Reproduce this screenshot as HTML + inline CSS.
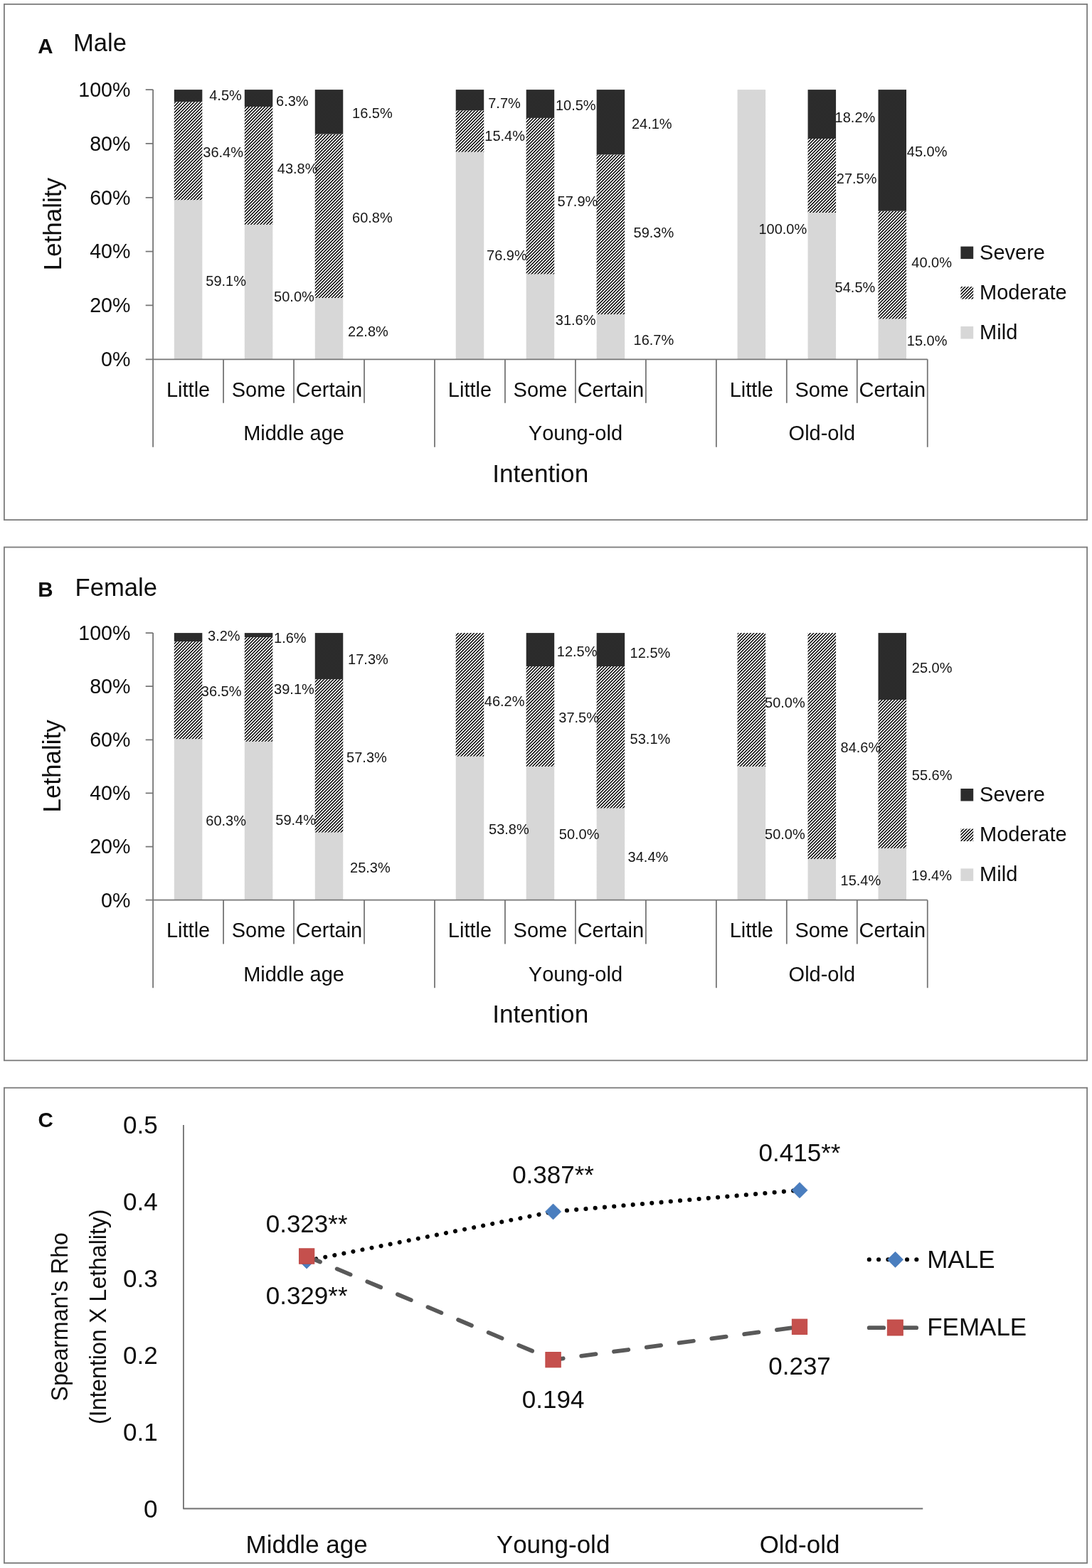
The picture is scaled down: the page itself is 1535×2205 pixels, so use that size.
<!DOCTYPE html>
<html lang="en"><head><meta charset="utf-8"><title>Intention and lethality by age group and sex</title>
<style>html,body{margin:0;padding:0;background:#fff}svg{display:block}text{font-family:"Liberation Sans", Arial, Helvetica, sans-serif;fill:#0d0d0d;font-kerning:none}.t29{font-size:29px}.tk{font-size:28.6px}.t35{font-size:35px}.t345{font-size:34.6px}.t355{font-size:35.2px}.t20{font-size:20px;fill:#151515}.t32{font-size:32px}.b{font-weight:bold;font-size:29.5px}.ax{stroke:#767676;stroke-width:1.8;fill:none}.bx{stroke:#7c7c7c;stroke-width:1.8;fill:none}</style></head><body>
<svg width="1535" height="2205" viewBox="0 0 1535 2205">
<defs><pattern id="hat" width="3.125" height="3.125" patternUnits="userSpaceOnUse" patternTransform="rotate(45)"><rect x="0" y="0" width="1.5" height="3.125" fill="#080808"/></pattern><pattern id="mild" width="2" height="2" patternUnits="userSpaceOnUse"><rect width="2" height="2" fill="#dcdcdc"/><rect width="1" height="1" fill="#d2d2d2"/><rect x="1" y="1" width="1" height="1" fill="#d2d2d2"/></pattern><pattern id="sev" width="2" height="2" patternUnits="userSpaceOnUse"><rect width="2" height="2" fill="#272727"/><rect width="1" height="1" fill="#303030"/><rect x="1" y="1" width="1" height="1" fill="#303030"/></pattern></defs>
<rect width="1535" height="2205" fill="#fff"/>
<rect class="bx" x="5.9" y="5.9" width="1522.2" height="725.2"/>
<rect class="bx" x="5.9" y="769.5" width="1522.2" height="721.8"/>
<rect class="bx" x="5.9" y="1529.7" width="1522.2" height="668.3"/>
<g>
<rect x="244.83" y="281.19" width="39.5" height="224.11" fill="url(#mild)"/>
<rect x="244.83" y="143.16" width="39.5" height="138.03" fill="url(#hat)"/>
<rect x="244.83" y="126.1" width="39.5" height="17.06" fill="url(#sev)"/>
<rect x="343.8" y="315.89" width="39.5" height="189.41" fill="url(#mild)"/>
<rect x="343.8" y="149.97" width="39.5" height="165.92" fill="url(#hat)"/>
<rect x="343.8" y="126.1" width="39.5" height="23.87" fill="url(#sev)"/>
<rect x="442.77" y="418.93" width="39.5" height="86.37" fill="url(#mild)"/>
<rect x="442.77" y="188.61" width="39.5" height="230.32" fill="url(#hat)"/>
<rect x="442.77" y="126.1" width="39.5" height="62.51" fill="url(#sev)"/>
<rect x="640.72" y="213.7" width="39.5" height="291.6" fill="url(#mild)"/>
<rect x="640.72" y="155.3" width="39.5" height="58.4" fill="url(#hat)"/>
<rect x="640.72" y="126.1" width="39.5" height="29.2" fill="url(#sev)"/>
<rect x="739.69" y="385.47" width="39.5" height="119.83" fill="url(#mild)"/>
<rect x="739.69" y="165.92" width="39.5" height="219.56" fill="url(#hat)"/>
<rect x="739.69" y="126.1" width="39.5" height="39.82" fill="url(#sev)"/>
<rect x="838.65" y="442.04" width="39.5" height="63.26" fill="url(#mild)"/>
<rect x="838.65" y="217.4" width="39.5" height="224.64" fill="url(#hat)"/>
<rect x="838.65" y="126.1" width="39.5" height="91.3" fill="url(#sev)"/>
<rect x="1036.6" y="126.1" width="39.5" height="379.2" fill="url(#mild)"/>
<rect x="1135.57" y="299.05" width="39.5" height="206.25" fill="url(#mild)"/>
<rect x="1135.57" y="194.98" width="39.5" height="104.07" fill="url(#hat)"/>
<rect x="1135.57" y="126.1" width="39.5" height="68.88" fill="url(#sev)"/>
<rect x="1234.53" y="448.42" width="39.5" height="56.88" fill="url(#mild)"/>
<rect x="1234.53" y="296.74" width="39.5" height="151.68" fill="url(#hat)"/>
<rect x="1234.53" y="126.1" width="39.5" height="170.64" fill="url(#sev)"/>
<path class="ax" d="M215.1 126.1V628.8M204.7 505.3H1303.77M204.7 126.1H215.1M204.7 201.94H215.1M204.7 277.78H215.1M204.7 353.62H215.1M204.7 429.46H215.1M314.07 505.3V566.8M413.04 505.3V566.8M512.01 505.3V566.8M610.98 505.3V628.8M709.95 505.3V566.8M808.92 505.3V566.8M907.89 505.3V566.8M1006.86 505.3V628.8M1105.83 505.3V566.8M1204.8 505.3V566.8M1303.77 505.3V628.8"/>
<text class="tk" text-anchor="end" transform="translate(183.4 135.9) scale(1 1.02)">100%</text>
<text class="tk" text-anchor="end" transform="translate(183.4 211.74) scale(1 1.02)">80%</text>
<text class="tk" text-anchor="end" transform="translate(183.4 287.58) scale(1 1.02)">60%</text>
<text class="tk" text-anchor="end" transform="translate(183.4 363.42) scale(1 1.02)">40%</text>
<text class="tk" text-anchor="end" transform="translate(183.4 439.26) scale(1 1.02)">20%</text>
<text class="tk" text-anchor="end" transform="translate(183.4 515.1) scale(1 1.02)">0%</text>
<text class="t29" text-anchor="middle" transform="translate(264.58 557.9) scale(1 1.02)">Little</text>
<text class="t29" text-anchor="middle" transform="translate(363.55 557.9) scale(1 1.02)">Some</text>
<text class="t29" text-anchor="middle" transform="translate(462.52 557.9) scale(1 1.02)">Certain</text>
<text class="t29" text-anchor="middle" transform="translate(660.47 557.9) scale(1 1.02)">Little</text>
<text class="t29" text-anchor="middle" transform="translate(759.44 557.9) scale(1 1.02)">Some</text>
<text class="t29" text-anchor="middle" transform="translate(858.4 557.9) scale(1 1.02)">Certain</text>
<text class="t29" text-anchor="middle" transform="translate(1056.35 557.9) scale(1 1.02)">Little</text>
<text class="t29" text-anchor="middle" transform="translate(1155.32 557.9) scale(1 1.02)">Some</text>
<text class="t29" text-anchor="middle" transform="translate(1254.28 557.9) scale(1 1.02)">Certain</text>
<text class="t29" text-anchor="middle" transform="translate(413.04 619.3) scale(1 1.02)">Middle age</text>
<text class="t29" text-anchor="middle" transform="translate(808.92 619.3) scale(1 1.02)">Young-old</text>
<text class="t29" text-anchor="middle" transform="translate(1155.32 619.3) scale(1 1.02)">Old-old</text>
<text class="t355" text-anchor="middle" transform="translate(759.7 677.9) scale(1 1.02)">Intention</text>
<text class="t35" text-anchor="middle" transform="translate(86.3 315.2) rotate(-90) scale(1 1.02)">Lethality</text>
<text class="b" transform="translate(53.3 75.2) scale(1 1.02)">A</text>
<text class="t345" transform="translate(103 72.1) scale(1 1.02)">Male</text>
<rect x="1350.4" y="346.6" width="17.8" height="17.5" fill="url(#sev)"/>
<text class="t29" transform="translate(1377.1 364.5) scale(1 1.02)">Severe</text>
<rect x="1350.4" y="403.1" width="17.8" height="17.5" fill="url(#hat)"/>
<text class="t29" transform="translate(1377.1 421) scale(1 1.02)">Moderate</text>
<rect x="1350.4" y="459" width="17.8" height="17.5" fill="url(#mild)"/>
<text class="t29" transform="translate(1377.1 476.9) scale(1 1.02)">Mild</text>
<text class="t20" text-anchor="end" transform="translate(339.8 141) scale(1 1.02)">4.5%</text>
<text class="t20" text-anchor="end" transform="translate(342 221.2) scale(1 1.02)">36.4%</text>
<text class="t20" text-anchor="end" transform="translate(346 402.1) scale(1 1.02)">59.1%</text>
<text class="t20" text-anchor="end" transform="translate(433.6 149.3) scale(1 1.02)">6.3%</text>
<text class="t20" text-anchor="end" transform="translate(446.5 244.1) scale(1 1.02)">43.8%</text>
<text class="t20" text-anchor="end" transform="translate(441.8 424.1) scale(1 1.02)">50.0%</text>
<text class="t20" text-anchor="end" transform="translate(551.7 166.3) scale(1 1.02)">16.5%</text>
<text class="t20" text-anchor="end" transform="translate(551.7 312.6) scale(1 1.02)">60.8%</text>
<text class="t20" text-anchor="end" transform="translate(545.8 473.2) scale(1 1.02)">22.8%</text>
<text class="t20" text-anchor="end" transform="translate(731.8 152.1) scale(1 1.02)">7.7%</text>
<text class="t20" text-anchor="end" transform="translate(738 198.1) scale(1 1.02)">15.4%</text>
<text class="t20" text-anchor="end" transform="translate(740.7 365.5) scale(1 1.02)">76.9%</text>
<text class="t20" text-anchor="end" transform="translate(837.6 154.9) scale(1 1.02)">10.5%</text>
<text class="t20" text-anchor="end" transform="translate(840.3 289.8) scale(1 1.02)">57.9%</text>
<text class="t20" text-anchor="end" transform="translate(837.5 456.6) scale(1 1.02)">31.6%</text>
<text class="t20" text-anchor="end" transform="translate(944.6 180.6) scale(1 1.02)">24.1%</text>
<text class="t20" text-anchor="end" transform="translate(947.2 334) scale(1 1.02)">59.3%</text>
<text class="t20" text-anchor="end" transform="translate(947.2 484.5) scale(1 1.02)">16.7%</text>
<text class="t20" text-anchor="end" transform="translate(1134.2 329.4) scale(1 1.02)">100.0%</text>
<text class="t20" text-anchor="end" transform="translate(1230.3 171.7) scale(1 1.02)">18.2%</text>
<text class="t20" text-anchor="end" transform="translate(1232.5 257.9) scale(1 1.02)">27.5%</text>
<text class="t20" text-anchor="end" transform="translate(1230.3 410.7) scale(1 1.02)">54.5%</text>
<text class="t20" text-anchor="end" transform="translate(1331.5 220.4) scale(1 1.02)">45.0%</text>
<text class="t20" text-anchor="end" transform="translate(1338 376.4) scale(1 1.02)">40.0%</text>
<text class="t20" text-anchor="end" transform="translate(1331.5 485.7) scale(1 1.02)">15.0%</text>
</g>
<g>
<rect x="244.83" y="1039.21" width="39.5" height="226.49" fill="url(#mild)"/>
<rect x="244.83" y="902.12" width="39.5" height="137.09" fill="url(#hat)"/>
<rect x="244.83" y="890.1" width="39.5" height="12.02" fill="url(#sev)"/>
<rect x="343.8" y="1042.82" width="39.5" height="222.88" fill="url(#mild)"/>
<rect x="343.8" y="896.1" width="39.5" height="146.71" fill="url(#hat)"/>
<rect x="343.8" y="890.1" width="39.5" height="6" fill="url(#sev)"/>
<rect x="442.77" y="1170.58" width="39.5" height="95.12" fill="url(#mild)"/>
<rect x="442.77" y="955.14" width="39.5" height="215.43" fill="url(#hat)"/>
<rect x="442.77" y="890.1" width="39.5" height="65.04" fill="url(#sev)"/>
<rect x="640.72" y="1063.63" width="39.5" height="202.07" fill="url(#mild)"/>
<rect x="640.72" y="890.1" width="39.5" height="173.53" fill="url(#hat)"/>
<rect x="739.69" y="1077.9" width="39.5" height="187.8" fill="url(#mild)"/>
<rect x="739.69" y="937.05" width="39.5" height="140.85" fill="url(#hat)"/>
<rect x="739.69" y="890.1" width="39.5" height="46.95" fill="url(#sev)"/>
<rect x="838.65" y="1136.49" width="39.5" height="129.21" fill="url(#mild)"/>
<rect x="838.65" y="937.05" width="39.5" height="199.44" fill="url(#hat)"/>
<rect x="838.65" y="890.1" width="39.5" height="46.95" fill="url(#sev)"/>
<rect x="1036.6" y="1077.9" width="39.5" height="187.8" fill="url(#mild)"/>
<rect x="1036.6" y="890.1" width="39.5" height="187.8" fill="url(#hat)"/>
<rect x="1135.57" y="1207.86" width="39.5" height="57.84" fill="url(#mild)"/>
<rect x="1135.57" y="890.1" width="39.5" height="317.76" fill="url(#hat)"/>
<rect x="1234.53" y="1192.83" width="39.5" height="72.87" fill="url(#mild)"/>
<rect x="1234.53" y="984" width="39.5" height="208.83" fill="url(#hat)"/>
<rect x="1234.53" y="890.1" width="39.5" height="93.9" fill="url(#sev)"/>
<path class="ax" d="M215.1 890.1V1389.3M204.7 1265.7H1303.77M204.7 890.1H215.1M204.7 965.22H215.1M204.7 1040.34H215.1M204.7 1115.46H215.1M204.7 1190.58H215.1M314.07 1265.7V1327.4M413.04 1265.7V1327.4M512.01 1265.7V1327.4M610.98 1265.7V1389.3M709.95 1265.7V1327.4M808.92 1265.7V1327.4M907.89 1265.7V1327.4M1006.86 1265.7V1389.3M1105.83 1265.7V1327.4M1204.8 1265.7V1327.4M1303.77 1265.7V1389.3"/>
<text class="tk" text-anchor="end" transform="translate(183.4 899.9) scale(1 1.02)">100%</text>
<text class="tk" text-anchor="end" transform="translate(183.4 975.02) scale(1 1.02)">80%</text>
<text class="tk" text-anchor="end" transform="translate(183.4 1050.14) scale(1 1.02)">60%</text>
<text class="tk" text-anchor="end" transform="translate(183.4 1125.26) scale(1 1.02)">40%</text>
<text class="tk" text-anchor="end" transform="translate(183.4 1200.38) scale(1 1.02)">20%</text>
<text class="tk" text-anchor="end" transform="translate(183.4 1275.5) scale(1 1.02)">0%</text>
<text class="t29" text-anchor="middle" transform="translate(264.58 1317.9) scale(1 1.02)">Little</text>
<text class="t29" text-anchor="middle" transform="translate(363.55 1317.9) scale(1 1.02)">Some</text>
<text class="t29" text-anchor="middle" transform="translate(462.52 1317.9) scale(1 1.02)">Certain</text>
<text class="t29" text-anchor="middle" transform="translate(660.47 1317.9) scale(1 1.02)">Little</text>
<text class="t29" text-anchor="middle" transform="translate(759.44 1317.9) scale(1 1.02)">Some</text>
<text class="t29" text-anchor="middle" transform="translate(858.4 1317.9) scale(1 1.02)">Certain</text>
<text class="t29" text-anchor="middle" transform="translate(1056.35 1317.9) scale(1 1.02)">Little</text>
<text class="t29" text-anchor="middle" transform="translate(1155.32 1317.9) scale(1 1.02)">Some</text>
<text class="t29" text-anchor="middle" transform="translate(1254.28 1317.9) scale(1 1.02)">Certain</text>
<text class="t29" text-anchor="middle" transform="translate(413.04 1379.6) scale(1 1.02)">Middle age</text>
<text class="t29" text-anchor="middle" transform="translate(808.92 1379.6) scale(1 1.02)">Young-old</text>
<text class="t29" text-anchor="middle" transform="translate(1155.32 1379.6) scale(1 1.02)">Old-old</text>
<text class="t355" text-anchor="middle" transform="translate(759.7 1438.4) scale(1 1.02)">Intention</text>
<text class="t35" text-anchor="middle" transform="translate(85.4 1077.4) rotate(-90) scale(1 1.02)">Lethality</text>
<text class="b" transform="translate(53.3 838.9) scale(1 1.02)">B</text>
<text class="t345" transform="translate(105.6 838.4) scale(1 1.02)">Female</text>
<rect x="1350.4" y="1109" width="17.8" height="17.5" fill="url(#sev)"/>
<text class="t29" transform="translate(1377.1 1126.9) scale(1 1.02)">Severe</text>
<rect x="1350.4" y="1165.5" width="17.8" height="17.5" fill="url(#hat)"/>
<text class="t29" transform="translate(1377.1 1183.4) scale(1 1.02)">Moderate</text>
<rect x="1350.4" y="1221.4" width="17.8" height="17.5" fill="url(#mild)"/>
<text class="t29" transform="translate(1377.1 1239.3) scale(1 1.02)">Mild</text>
<text class="t20" text-anchor="end" transform="translate(337.6 900.6) scale(1 1.02)">3.2%</text>
<text class="t20" text-anchor="end" transform="translate(339.5 979) scale(1 1.02)">36.5%</text>
<text class="t20" text-anchor="end" transform="translate(346 1161) scale(1 1.02)">60.3%</text>
<text class="t20" text-anchor="end" transform="translate(430.6 904) scale(1 1.02)">1.6%</text>
<text class="t20" text-anchor="end" transform="translate(441.8 975.9) scale(1 1.02)">39.1%</text>
<text class="t20" text-anchor="end" transform="translate(444 1160.4) scale(1 1.02)">59.4%</text>
<text class="t20" text-anchor="end" transform="translate(545.8 934.4) scale(1 1.02)">17.3%</text>
<text class="t20" text-anchor="end" transform="translate(543.8 1071.7) scale(1 1.02)">57.3%</text>
<text class="t20" text-anchor="end" transform="translate(548.7 1227.1) scale(1 1.02)">25.3%</text>
<text class="t20" text-anchor="end" transform="translate(737.5 993.1) scale(1 1.02)">46.2%</text>
<text class="t20" text-anchor="end" transform="translate(743.7 1173.3) scale(1 1.02)">53.8%</text>
<text class="t20" text-anchor="end" transform="translate(839.5 922.5) scale(1 1.02)">12.5%</text>
<text class="t20" text-anchor="end" transform="translate(842 1016.1) scale(1 1.02)">37.5%</text>
<text class="t20" text-anchor="end" transform="translate(842.5 1180.3) scale(1 1.02)">50.0%</text>
<text class="t20" text-anchor="end" transform="translate(942.3 925) scale(1 1.02)">12.5%</text>
<text class="t20" text-anchor="end" transform="translate(942.3 1045.7) scale(1 1.02)">53.1%</text>
<text class="t20" text-anchor="end" transform="translate(939.3 1212.1) scale(1 1.02)">34.4%</text>
<text class="t20" text-anchor="end" transform="translate(1131.7 995.1) scale(1 1.02)">50.0%</text>
<text class="t20" text-anchor="end" transform="translate(1131.7 1180.2) scale(1 1.02)">50.0%</text>
<text class="t20" text-anchor="end" transform="translate(1238.2 1057.8) scale(1 1.02)">84.6%</text>
<text class="t20" text-anchor="end" transform="translate(1238.2 1245.2) scale(1 1.02)">15.4%</text>
<text class="t20" text-anchor="end" transform="translate(1338.5 946.1) scale(1 1.02)">25.0%</text>
<text class="t20" text-anchor="end" transform="translate(1338.5 1097.2) scale(1 1.02)">55.6%</text>
<text class="t20" text-anchor="end" transform="translate(1338 1237.8) scale(1 1.02)">19.4%</text>
</g>
<g>
<path d="M257.9 1582V2121.5H1297.25" fill="none" stroke="#707070" stroke-width="1.8" stroke-linejoin="round"/>
<text class="t35" text-anchor="end" transform="translate(221.6 2133.7) scale(1 1.02)">0</text>
<text class="t35" text-anchor="end" transform="translate(221.6 2025.8) scale(1 1.02)">0.1</text>
<text class="t35" text-anchor="end" transform="translate(221.6 1917.9) scale(1 1.02)">0.2</text>
<text class="t35" text-anchor="end" transform="translate(221.6 1810) scale(1 1.02)">0.3</text>
<text class="t35" text-anchor="end" transform="translate(221.6 1702.1) scale(1 1.02)">0.4</text>
<text class="t35" text-anchor="end" transform="translate(221.6 1594.2) scale(1 1.02)">0.5</text>
<text class="t35" text-anchor="middle" transform="translate(431.12 2184) scale(1 1.02)">Middle age</text>
<text class="t35" text-anchor="middle" transform="translate(777.57 2184) scale(1 1.02)">Young-old</text>
<text class="t35" text-anchor="middle" transform="translate(1124.03 2184) scale(1 1.02)">Old-old</text>
<polyline points="431.12,1772.98 777.57,1703.93 1124.03,1673.72" fill="none" stroke="#000" stroke-width="6.1" stroke-linecap="round" stroke-dasharray="0.01 13.3"/>
<polyline points="431.12,1766.51 777.57,1912.17 1124.03,1865.78" fill="none" stroke="#595959" stroke-width="5.8" stroke-linecap="round" stroke-dasharray="20.5 25.7"/>
<path d="M431.12 1761.98L442.12 1772.98L431.12 1783.98L420.12 1772.98Z" fill="#4a7ebf" stroke="#4577b8" stroke-width="0.8"/>
<path d="M777.57 1692.93L788.57 1703.93L777.57 1714.93L766.57 1703.93Z" fill="#4a7ebf" stroke="#4577b8" stroke-width="0.8"/>
<path d="M1124.03 1662.72L1135.03 1673.72L1124.03 1684.72L1113.03 1673.72Z" fill="#4a7ebf" stroke="#4577b8" stroke-width="0.8"/>
<rect x="420.43" y="1755.81" width="21.4" height="21.4" fill="#c5504d" stroke="#bc4542" stroke-width="0.9"/>
<rect x="766.87" y="1901.47" width="21.4" height="21.4" fill="#c5504d" stroke="#bc4542" stroke-width="0.9"/>
<rect x="1113.33" y="1855.08" width="21.4" height="21.4" fill="#c5504d" stroke="#bc4542" stroke-width="0.9"/>
<text class="t35" text-anchor="middle" transform="translate(431.12 1733.2) scale(1 1.02)">0.323**</text>
<text class="t35" text-anchor="middle" transform="translate(777.57 1663.8) scale(1 1.02)">0.387**</text>
<text class="t35" text-anchor="middle" transform="translate(1124.03 1632.9) scale(1 1.02)">0.415**</text>
<text class="t35" text-anchor="middle" transform="translate(431.12 1834.2) scale(1 1.02)">0.329**</text>
<text class="t35" text-anchor="middle" transform="translate(777.57 1979.8) scale(1 1.02)">0.194</text>
<text class="t35" text-anchor="middle" transform="translate(1124.03 1933.2) scale(1 1.02)">0.237</text>
<path d="M1221.8 1771.3H1288.5" fill="none" stroke="#000" stroke-width="6.1" stroke-linecap="round" stroke-dasharray="0.01 13.3"/>
<path d="M1258.5 1760.3L1269.5 1771.3L1258.5 1782.3L1247.5 1771.3Z" fill="#4a7ebf" stroke="#4577b8" stroke-width="0.8"/>
<text class="t35" transform="translate(1303.2 1782.5) scale(1 1.02)">MALE</text>
<path d="M1221.7 1867.2H1288.2" fill="none" stroke="#595959" stroke-width="5.8" stroke-linecap="round" stroke-dasharray="20.5 25.7"/>
<rect x="1247.3" y="1856" width="22" height="22" fill="#c5504d" stroke="#bc4542" stroke-width="0.9"/>
<text class="t35" transform="translate(1303.2 1878) scale(1 1.02)">FEMALE</text>
<text class="t32" text-anchor="middle" transform="translate(94.5 1851.75) rotate(-90) scale(1 1.02)">Spearman's Rho</text>
<text class="t32" text-anchor="middle" transform="translate(149.2 1851.75) rotate(-90) scale(1 1.02)">(Intention X Lethality)</text>
<text class="b" transform="translate(53.6 1584.8) scale(1 1.02)">C</text>
</g>
</svg></body></html>
